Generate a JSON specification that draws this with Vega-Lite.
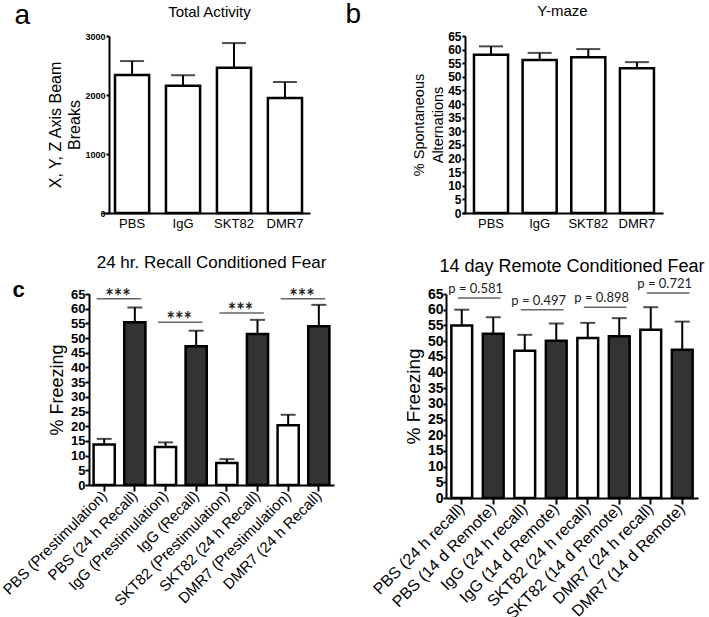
{
  "$schema": "https://vega.github.io/schema/vega-lite/v6.json",
  "background": "white",
  "padding": {"left": 0, "top": 0, "right": 0, "bottom": 0},
  "columns": 2,
  "bounds": "flush",
  "align": "all",
  "center": false,
  "spacing": {"row": 54, "column": 105},
  "config": {
    "view": {"stroke": null},
    "axis": {"domainColor": "black", "domainWidth": 2, "tickColor": "black", "tickWidth": 2, "labelColor": "black", "titleColor": "black", "grid": false, "labelFont": "Liberation Sans", "titleFont": "Liberation Sans", "titleFontWeight": "normal"},
    "title": {"font": "Liberation Sans", "fontWeight": "normal", "color": "black"}
  },
  "datasets": {
    "activity": [
      {"group": "PBS", "mean": 2340, "upper": 2575},
      {"group": "IgG", "mean": 2155, "upper": 2335},
      {"group": "SKT82", "mean": 2460, "upper": 2880},
      {"group": "DMR7", "mean": 1950, "upper": 2220}
    ],
    "ymaze": [
      {"group": "PBS", "mean": 58.1, "upper": 61.2},
      {"group": "IgG", "mean": 56.2, "upper": 58.8},
      {"group": "SKT82", "mean": 57.2, "upper": 60.2},
      {"group": "DMR7", "mean": 53.2, "upper": 55.4}
    ],
    "recall": [
      {"group": "PBS (Prestimulation)", "phase": "pre", "mean": 13.8, "upper": 15.7},
      {"group": "PBS (24 h Recall)", "phase": "post", "mean": 55.4, "upper": 60.4},
      {"group": "IgG (Prestimulation)", "phase": "pre", "mean": 12.9, "upper": 14.5},
      {"group": "IgG (Recall)", "phase": "post", "mean": 47.2, "upper": 52.5},
      {"group": "SKT82 (Prestimulation)", "phase": "pre", "mean": 7.5, "upper": 8.8},
      {"group": "SKT82 (24 h Recall)", "phase": "post", "mean": 51.4, "upper": 56.2},
      {"group": "DMR7 (Prestimulation)", "phase": "pre", "mean": 20.3, "upper": 23.9},
      {"group": "DMR7 (24 h Recall)", "phase": "post", "mean": 54.0, "upper": 61.3}
    ],
    "remote": [
      {"group": "PBS (24 h recall)", "phase": "pre", "mean": 55.0, "upper": 60.0},
      {"group": "PBS (14 d Remote)", "phase": "post", "mean": 52.3, "upper": 57.6},
      {"group": "IgG (24 h recall)", "phase": "pre", "mean": 46.9, "upper": 52.0},
      {"group": "IgG (14 d Remote)", "phase": "post", "mean": 50.1, "upper": 55.6},
      {"group": "SKT82 (24 h recall)", "phase": "pre", "mean": 51.0, "upper": 55.8},
      {"group": "SKT82 (14 d Remote)", "phase": "post", "mean": 51.5, "upper": 57.3},
      {"group": "DMR7 (24 h recall)", "phase": "pre", "mean": 53.6, "upper": 60.8},
      {"group": "DMR7 (14 d Remote)", "phase": "post", "mean": 47.2, "upper": 56.2}
    ],
    "sigC": [
      {"from": "PBS (Prestimulation)", "to": "PBS (24 h Recall)", "y": 63.4, "label": "***"},
      {"from": "IgG (Prestimulation)", "to": "IgG (Recall)", "y": 55.4, "label": "***"},
      {"from": "SKT82 (Prestimulation)", "to": "SKT82 (24 h Recall)", "y": 58.5, "label": "***"},
      {"from": "DMR7 (Prestimulation)", "to": "DMR7 (24 h Recall)", "y": 63.4, "label": "***"}
    ],
    "sigD": [
      {"from": "PBS (24 h recall)", "to": "PBS (14 d Remote)", "y": 63.7, "label": "p = 0.581"},
      {"from": "IgG (24 h recall)", "to": "IgG (14 d Remote)", "y": 60.0, "label": "p = 0.497"},
      {"from": "SKT82 (24 h recall)", "to": "SKT82 (14 d Remote)", "y": 60.8, "label": "p = 0.898"},
      {"from": "DMR7 (24 h recall)", "to": "DMR7 (14 d Remote)", "y": 65.3, "label": "p = 0.721"}
    ]
  },
  "concat": [
    {
      "width": 221, "height": 177,
      "title": {"text": "Total Activity", "fontSize": 15, "offset": -19, "anchor": "middle", "dx": 10},
      "resolve": {"axis": {"x": "independent"}},
      "layer": [
        {
          "data": {"name": "activity"},
          "mark": {"type": "rule", "strokeWidth": 2, "color": "black"},
          "encoding": {
            "x": {"field": "group", "type": "nominal", "sort": null, "scale": {"domain": ["PBS", "IgG", "SKT82", "DMR7"], "range": [13, 221], "paddingInner": 0.33, "paddingOuter": 0.206, "align": 0.62},
              "axis": {"orient": "top", "title": "a", "labels": false, "ticks": false, "domain": false, "titleX": -75, "titleY": -13, "titleAlign": "left", "titleBaseline": "alphabetic", "titleFontSize": 28, "titleAngle": 0}},
            "y": {"field": "mean", "type": "quantitative", "scale": {"domain": [0, 3000], "nice": false},
              "axis": {"offset": -20, "title": ["X, Y, Z Axis Beam", "Breaks"], "format": "d", "titleFontSize": 16, "titleLineHeight": 19, "titlePadding": 2, "labelFontSize": 9, "labelFontWeight": "bold", "labelPadding": 1, "tickSize": 3, "values": [0, 1000, 2000, 3000]}},
            "y2": {"field": "upper"}
          }
        },
        {
          "data": {"name": "activity"},
          "mark": {"type": "tick", "size": 24, "thickness": 2, "color": "black"},
          "encoding": {
            "x": {"field": "group", "type": "nominal", "sort": null, "scale": {"domain": ["PBS", "IgG", "SKT82", "DMR7"], "range": [13, 221], "paddingInner": 0.33, "paddingOuter": 0.206, "align": 0.62}, "axis": null},
            "y": {"field": "upper", "type": "quantitative", "scale": {"domain": [0, 3000], "nice": false},
              "axis": {"offset": -20, "title": ["X, Y, Z Axis Beam", "Breaks"], "format": "d", "titleFontSize": 16, "titleLineHeight": 19, "titlePadding": 2, "labelFontSize": 9, "labelFontWeight": "bold", "labelPadding": 1, "tickSize": 3, "values": [0, 1000, 2000, 3000]}}
          }
        },
        {
          "data": {"name": "activity"},
          "mark": {"type": "bar", "fill": "white", "stroke": "black", "strokeWidth": 2.5},
          "encoding": {
            "x": {"field": "group", "type": "nominal", "sort": null, "scale": {"domain": ["PBS", "IgG", "SKT82", "DMR7"], "range": [13, 221], "paddingInner": 0.33, "paddingOuter": 0.206, "align": 0.62},
              "axis": {"orient": "bottom", "title": null, "labelAngle": 0, "labelFontSize": 13, "ticks": false, "labelPadding": 4}},
            "y": {"field": "mean", "type": "quantitative", "scale": {"domain": [0, 3000], "nice": false},
              "axis": {"offset": -20, "title": ["X, Y, Z Axis Beam", "Breaks"], "format": "d", "titleFontSize": 16, "titleLineHeight": 19, "titlePadding": 2, "labelFontSize": 9, "labelFontWeight": "bold", "labelPadding": 1, "tickSize": 3, "values": [0, 1000, 2000, 3000]}}
          }
        }
      ]
    },
    {
      "width": 217, "height": 177,
      "title": {"text": "Y-maze", "fontSize": 15, "offset": -19, "anchor": "middle", "dx": 8},
      "resolve": {"axis": {"x": "independent"}},
      "layer": [
        {
          "data": {"name": "ymaze"},
          "mark": {"type": "rule", "strokeWidth": 2, "color": "black"},
          "encoding": {
            "x": {"field": "group", "type": "nominal", "sort": null, "scale": {"domain": ["PBS", "IgG", "SKT82", "DMR7"], "range": [16, 217], "paddingInner": 0.3, "paddingOuter": 0.216, "align": 0.57},
              "axis": {"orient": "top", "title": "b", "labels": false, "ticks": false, "domain": false, "titleX": -101, "titleY": -14, "titleAlign": "left", "titleBaseline": "alphabetic", "titleFontSize": 28, "titleAngle": 0}},
            "y": {"field": "mean", "type": "quantitative", "scale": {"domain": [0, 65], "nice": false},
              "axis": {"offset": -19, "title": ["% Spontaneous", "Alternations"], "titleFontSize": 14.5, "titleLineHeight": 19, "titlePadding": 2, "labelFontSize": 12, "labelFontWeight": "bold", "labelPadding": 1, "tickSize": 3, "values": [0, 5, 10, 15, 20, 25, 30, 35, 40, 45, 50, 55, 60, 65]}},
            "y2": {"field": "upper"}
          }
        },
        {
          "data": {"name": "ymaze"},
          "mark": {"type": "tick", "size": 24, "thickness": 2, "color": "black"},
          "encoding": {
            "x": {"field": "group", "type": "nominal", "sort": null, "scale": {"domain": ["PBS", "IgG", "SKT82", "DMR7"], "range": [16, 217], "paddingInner": 0.3, "paddingOuter": 0.216, "align": 0.57}, "axis": null},
            "y": {"field": "upper", "type": "quantitative", "scale": {"domain": [0, 65], "nice": false},
              "axis": {"offset": -19, "title": ["% Spontaneous", "Alternations"], "titleFontSize": 14.5, "titleLineHeight": 19, "titlePadding": 2, "labelFontSize": 12, "labelFontWeight": "bold", "labelPadding": 1, "tickSize": 3, "values": [0, 5, 10, 15, 20, 25, 30, 35, 40, 45, 50, 55, 60, 65]}}
          }
        },
        {
          "data": {"name": "ymaze"},
          "mark": {"type": "bar", "fill": "white", "stroke": "black", "strokeWidth": 2.5},
          "encoding": {
            "x": {"field": "group", "type": "nominal", "sort": null, "scale": {"domain": ["PBS", "IgG", "SKT82", "DMR7"], "range": [16, 217], "paddingInner": 0.3, "paddingOuter": 0.216, "align": 0.57},
              "axis": {"orient": "bottom", "title": null, "labelAngle": 0, "labelFontSize": 13, "ticks": false, "labelPadding": 4}},
            "y": {"field": "mean", "type": "quantitative", "scale": {"domain": [0, 65], "nice": false},
              "axis": {"offset": -19, "title": ["% Spontaneous", "Alternations"], "titleFontSize": 14.5, "titleLineHeight": 19, "titlePadding": 2, "labelFontSize": 12, "labelFontWeight": "bold", "labelPadding": 1, "tickSize": 3, "values": [0, 5, 10, 15, 20, 25, 30, 35, 40, 45, 50, 55, 60, 65]}}
          }
        }
      ]
    },
    {
      "width": 245, "height": 191,
      "title": {"text": "24 hr. Recall Conditioned Fear", "fontSize": 17, "offset": 6},
      "resolve": {"axis": {"x": "independent"}},
      "layer": [
        {
          "data": {"name": "recall"},
          "mark": {"type": "rule", "strokeWidth": 2, "color": "black"},
          "encoding": {
            "x": {"field": "group", "type": "nominal", "sort": null, "scale": {"domain": ["PBS (Prestimulation)", "PBS (24 h Recall)", "IgG (Prestimulation)", "IgG (Recall)", "SKT82 (Prestimulation)", "SKT82 (24 h Recall)", "DMR7 (Prestimulation)", "DMR7 (24 h Recall)"], "paddingInner": 0.31, "paddingOuter": 0.15},
              "axis": {"orient": "top", "title": "c", "labels": false, "ticks": false, "domain": false, "titleX": -77, "titleY": 2, "titleAlign": "left", "titleBaseline": "alphabetic", "titleFontSize": 22, "titleFontWeight": "bold", "titleAngle": 0}},
            "y": {"field": "mean", "type": "quantitative", "scale": {"domain": [0, 65], "nice": false},
              "axis": {"title": "% Freezing", "titleFontSize": 18, "titlePadding": 4, "labelFontSize": 13, "labelFontWeight": "bold", "labelPadding": 0, "tickSize": 4, "values": [0, 5, 10, 15, 20, 25, 30, 35, 40, 45, 50, 55, 60, 65]}},
            "y2": {"field": "upper"}
          }
        },
        {
          "data": {"name": "recall"},
          "mark": {"type": "tick", "size": 15, "thickness": 2, "color": "black"},
          "encoding": {
            "x": {"field": "group", "type": "nominal", "sort": null, "scale": {"domain": ["PBS (Prestimulation)", "PBS (24 h Recall)", "IgG (Prestimulation)", "IgG (Recall)", "SKT82 (Prestimulation)", "SKT82 (24 h Recall)", "DMR7 (Prestimulation)", "DMR7 (24 h Recall)"], "paddingInner": 0.31, "paddingOuter": 0.15}, "axis": null},
            "y": {"field": "upper", "type": "quantitative", "scale": {"domain": [0, 65], "nice": false},
              "axis": {"title": "% Freezing", "titleFontSize": 18, "titlePadding": 4, "labelFontSize": 13, "labelFontWeight": "bold", "labelPadding": 0, "tickSize": 4, "values": [0, 5, 10, 15, 20, 25, 30, 35, 40, 45, 50, 55, 60, 65]}}
          }
        },
        {
          "data": {"name": "recall"},
          "mark": {"type": "bar", "stroke": "black", "strokeWidth": 2.5},
          "encoding": {
            "x": {"field": "group", "type": "nominal", "sort": null, "scale": {"domain": ["PBS (Prestimulation)", "PBS (24 h Recall)", "IgG (Prestimulation)", "IgG (Recall)", "SKT82 (Prestimulation)", "SKT82 (24 h Recall)", "DMR7 (Prestimulation)", "DMR7 (24 h Recall)"], "paddingInner": 0.31, "paddingOuter": 0.15},
              "axis": {"orient": "bottom", "title": null, "labelAngle": -45, "labelAlign": "right", "labelBaseline": "middle", "labelFontSize": 15, "labelPadding": 2, "tickSize": 6, "labelLimit": 300}},
            "y": {"field": "mean", "type": "quantitative", "scale": {"domain": [0, 65], "nice": false},
              "axis": {"title": "% Freezing", "titleFontSize": 18, "titlePadding": 4, "labelFontSize": 13, "labelFontWeight": "bold", "labelPadding": 0, "tickSize": 4, "values": [0, 5, 10, 15, 20, 25, 30, 35, 40, 45, 50, 55, 60, 65]}},
            "fill": {"field": "phase", "type": "nominal", "scale": {"domain": ["pre", "post"], "range": ["white", "#333333"]}, "legend": null}
          }
        },
        {
          "data": {"name": "sigC"},
          "mark": {"type": "rule", "strokeWidth": 1.5, "color": "#666666"},
          "encoding": {
            "x": {"field": "from", "type": "nominal", "bandPosition": 0.15, "scale": {"domain": ["PBS (Prestimulation)", "PBS (24 h Recall)", "IgG (Prestimulation)", "IgG (Recall)", "SKT82 (Prestimulation)", "SKT82 (24 h Recall)", "DMR7 (Prestimulation)", "DMR7 (24 h Recall)"], "paddingInner": 0.31, "paddingOuter": 0.15}, "axis": null},
            "x2": {"field": "to", "bandPosition": 0.8},
            "y": {"field": "y", "type": "quantitative", "scale": {"domain": [0, 65], "nice": false},
              "axis": {"title": "% Freezing", "titleFontSize": 18, "titlePadding": 4, "labelFontSize": 13, "labelFontWeight": "bold", "labelPadding": 0, "tickSize": 4, "values": [0, 5, 10, 15, 20, 25, 30, 35, 40, 45, 50, 55, 60, 65]}}
          }
        },
        {
          "data": {"name": "sigC"},
          "mark": {"type": "text", "font": "Lato", "fontSize": 20, "fontWeight": "bold", "baseline": "alphabetic", "dy": 5, "color": "#222222"},
          "encoding": {
            "x": {"field": "from", "type": "nominal", "bandPosition": 1.15, "scale": {"domain": ["PBS (Prestimulation)", "PBS (24 h Recall)", "IgG (Prestimulation)", "IgG (Recall)", "SKT82 (Prestimulation)", "SKT82 (24 h Recall)", "DMR7 (Prestimulation)", "DMR7 (24 h Recall)"], "paddingInner": 0.31, "paddingOuter": 0.15}, "axis": null},
            "y": {"field": "y", "type": "quantitative", "scale": {"domain": [0, 65], "nice": false},
              "axis": {"title": "% Freezing", "titleFontSize": 18, "titlePadding": 4, "labelFontSize": 13, "labelFontWeight": "bold", "labelPadding": 0, "tickSize": 4, "values": [0, 5, 10, 15, 20, 25, 30, 35, 40, 45, 50, 55, 60, 65]}},
            "text": {"field": "label"}
          }
        }
      ]
    },
    {
      "width": 252, "height": 204,
      "title": {"text": "14 day Remote Conditioned Fear", "fontSize": 18, "offset": 2},
      "layer": [
        {
          "data": {"name": "remote"},
          "mark": {"type": "rule", "strokeWidth": 2, "color": "black"},
          "encoding": {
            "x": {"field": "group", "type": "nominal", "sort": null, "scale": {"domain": ["PBS (24 h recall)", "PBS (14 d Remote)", "IgG (24 h recall)", "IgG (14 d Remote)", "SKT82 (24 h recall)", "SKT82 (14 d Remote)", "DMR7 (24 h recall)", "DMR7 (14 d Remote)"], "paddingInner": 0.34, "paddingOuter": 0.17},
              "axis": {"orient": "bottom", "title": null, "labelAngle": -45, "labelAlign": "right", "labelBaseline": "middle", "labelFontSize": 16, "labelPadding": 2, "tickSize": 6, "labelLimit": 300}},
            "y": {"field": "mean", "type": "quantitative", "scale": {"domain": [0, 65], "nice": false},
              "axis": {"title": "% Freezing", "titleFontSize": 19, "titlePadding": 4, "labelFontSize": 14, "labelFontWeight": "bold", "labelPadding": 0, "tickSize": 3, "values": [0, 5, 10, 15, 20, 25, 30, 35, 40, 45, 50, 55, 60, 65]}},
            "y2": {"field": "upper"}
          }
        },
        {
          "data": {"name": "remote"},
          "mark": {"type": "tick", "size": 15, "thickness": 2, "color": "black"},
          "encoding": {
            "x": {"field": "group", "type": "nominal", "sort": null, "scale": {"domain": ["PBS (24 h recall)", "PBS (14 d Remote)", "IgG (24 h recall)", "IgG (14 d Remote)", "SKT82 (24 h recall)", "SKT82 (14 d Remote)", "DMR7 (24 h recall)", "DMR7 (14 d Remote)"], "paddingInner": 0.34, "paddingOuter": 0.17},
              "axis": {"orient": "bottom", "title": null, "labelAngle": -45, "labelAlign": "right", "labelBaseline": "middle", "labelFontSize": 16, "labelPadding": 2, "tickSize": 6, "labelLimit": 300}},
            "y": {"field": "upper", "type": "quantitative", "scale": {"domain": [0, 65], "nice": false},
              "axis": {"title": "% Freezing", "titleFontSize": 19, "titlePadding": 4, "labelFontSize": 14, "labelFontWeight": "bold", "labelPadding": 0, "tickSize": 3, "values": [0, 5, 10, 15, 20, 25, 30, 35, 40, 45, 50, 55, 60, 65]}}
          }
        },
        {
          "data": {"name": "remote"},
          "mark": {"type": "bar", "stroke": "black", "strokeWidth": 2.5},
          "encoding": {
            "x": {"field": "group", "type": "nominal", "sort": null, "scale": {"domain": ["PBS (24 h recall)", "PBS (14 d Remote)", "IgG (24 h recall)", "IgG (14 d Remote)", "SKT82 (24 h recall)", "SKT82 (14 d Remote)", "DMR7 (24 h recall)", "DMR7 (14 d Remote)"], "paddingInner": 0.34, "paddingOuter": 0.17},
              "axis": {"orient": "bottom", "title": null, "labelAngle": -45, "labelAlign": "right", "labelBaseline": "middle", "labelFontSize": 16, "labelPadding": 2, "tickSize": 6, "labelLimit": 300}},
            "y": {"field": "mean", "type": "quantitative", "scale": {"domain": [0, 65], "nice": false},
              "axis": {"title": "% Freezing", "titleFontSize": 19, "titlePadding": 4, "labelFontSize": 14, "labelFontWeight": "bold", "labelPadding": 0, "tickSize": 3, "values": [0, 5, 10, 15, 20, 25, 30, 35, 40, 45, 50, 55, 60, 65]}},
            "fill": {"field": "phase", "type": "nominal", "scale": {"domain": ["pre", "post"], "range": ["white", "#333333"]}, "legend": null}
          }
        },
        {
          "data": {"name": "sigD"},
          "mark": {"type": "rule", "strokeWidth": 1.5, "color": "#666666"},
          "encoding": {
            "x": {"field": "from", "type": "nominal", "bandPosition": 0.31, "scale": {"domain": ["PBS (24 h recall)", "PBS (14 d Remote)", "IgG (24 h recall)", "IgG (14 d Remote)", "SKT82 (24 h recall)", "SKT82 (14 d Remote)", "DMR7 (24 h recall)", "DMR7 (14 d Remote)"], "paddingInner": 0.34, "paddingOuter": 0.17},
              "axis": {"orient": "bottom", "title": null, "labelAngle": -45, "labelAlign": "right", "labelBaseline": "middle", "labelFontSize": 16, "labelPadding": 2, "tickSize": 6, "labelLimit": 300}},
            "x2": {"field": "to", "bandPosition": 0.85},
            "y": {"field": "y", "type": "quantitative", "scale": {"domain": [0, 65], "nice": false},
              "axis": {"title": "% Freezing", "titleFontSize": 19, "titlePadding": 4, "labelFontSize": 14, "labelFontWeight": "bold", "labelPadding": 0, "tickSize": 3, "values": [0, 5, 10, 15, 20, 25, 30, 35, 40, 45, 50, 55, 60, 65]}}
          }
        },
        {
          "data": {"name": "sigD"},
          "mark": {"type": "text", "font": "Lato", "fontSize": 13, "baseline": "alphabetic", "dy": -5, "color": "#222222"},
          "encoding": {
            "x": {"field": "from", "type": "nominal", "bandPosition": 1.17, "scale": {"domain": ["PBS (24 h recall)", "PBS (14 d Remote)", "IgG (24 h recall)", "IgG (14 d Remote)", "SKT82 (24 h recall)", "SKT82 (14 d Remote)", "DMR7 (24 h recall)", "DMR7 (14 d Remote)"], "paddingInner": 0.34, "paddingOuter": 0.17},
              "axis": {"orient": "bottom", "title": null, "labelAngle": -45, "labelAlign": "right", "labelBaseline": "middle", "labelFontSize": 16, "labelPadding": 2, "tickSize": 6, "labelLimit": 300}},
            "y": {"field": "y", "type": "quantitative", "scale": {"domain": [0, 65], "nice": false},
              "axis": {"title": "% Freezing", "titleFontSize": 19, "titlePadding": 4, "labelFontSize": 14, "labelFontWeight": "bold", "labelPadding": 0, "tickSize": 3, "values": [0, 5, 10, 15, 20, 25, 30, 35, 40, 45, 50, 55, 60, 65]}},
            "text": {"field": "label"}
          }
        }
      ]
    }
  ]
}
